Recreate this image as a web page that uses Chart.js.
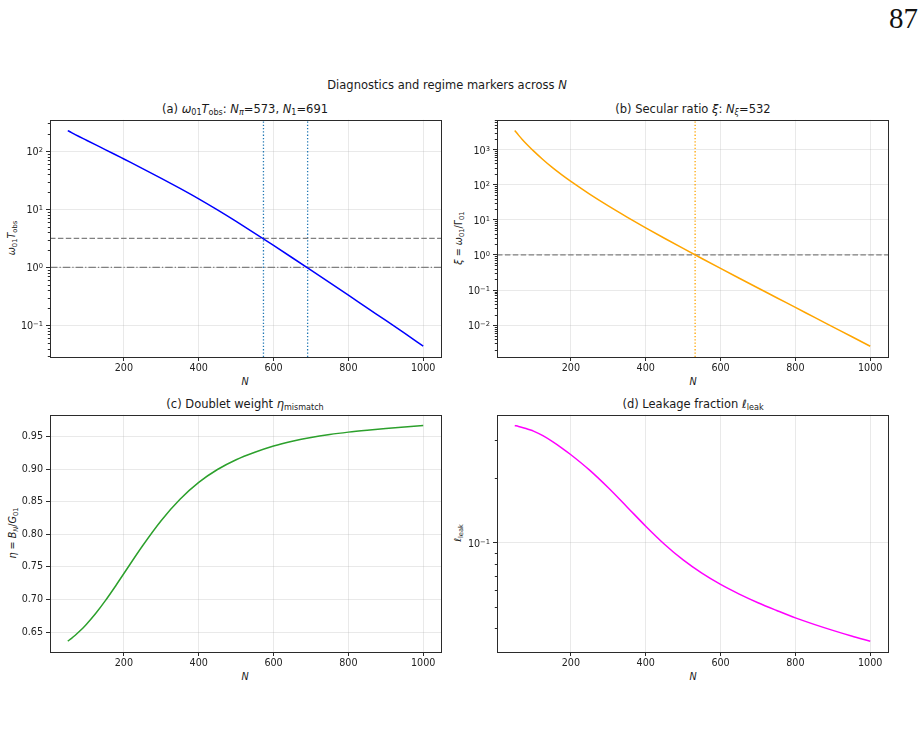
<!DOCTYPE html>
<html><head><meta charset="utf-8">
<script src="https://cdn.jsdelivr.net/npm/chart.js@4.4.0/dist/chart.umd.min.js"></script>
<style>
body{margin:0;background:#fff;}
#fig{position:relative;width:920px;height:736px;overflow:hidden;background:#fff;font-family:"DejaVu Sans",sans-serif;color:#1a1a1a;}
.t{position:absolute;white-space:nowrap;transform:translate(-50%,-50%);line-height:1;}
.yl{position:absolute;white-space:nowrap;transform:translate(-50%,-50%) rotate(-90deg);line-height:1;font-size:9.6px;}
.ttl{font-size:11.5px;}
.xl{font-size:9.6px;}
.lt{position:absolute;white-space:nowrap;transform:translate(-100%,-50%);line-height:1;font-size:9.6px;color:#222;}
.lt sup{font-size:70%;vertical-align:0.5em;line-height:0;}
sub{font-size:70%;vertical-align:-0.25em;line-height:0;}
i{font-style:italic;}
canvas{position:absolute;}
#pg{position:absolute;left:889px;top:2px;font-family:"Liberation Serif",serif;font-size:29px;color:#111;}
</style></head><body>
<div id="fig">
 <div id="pg">87</div>
 <div class="t ttl" style="left:447px;top:86px;">Diagnostics and regime markers across <i>N</i></div>
 <div class="t ttl" style="left:245px;top:110px;">(a) <i>ω</i><sub>01</sub><i>T</i><sub>obs</sub>: <i>N</i><sub><i>π</i></sub>=573, <i>N</i><sub>1</sub>=691</div>
 <div class="t ttl" style="left:693px;top:110px;">(b) Secular ratio <i>ξ</i>: <i>N</i><sub><i>ξ</i></sub>=532</div>
 <div class="t ttl" style="left:245px;top:405px;">(c) Doublet weight <i>η</i><sub>mismatch</sub></div>
 <div class="t ttl" style="left:693px;top:405px;">(d) Leakage fraction <i>ℓ</i><sub>leak</sub></div>
 <div class="t xl" style="left:245px;top:382px;"><i>N</i></div>
 <div class="t xl" style="left:693px;top:382px;"><i>N</i></div>
 <div class="t xl" style="left:245px;top:677px;"><i>N</i></div>
 <div class="t xl" style="left:693px;top:677px;"><i>N</i></div>
 <div class="yl" style="left:12px;top:238px;"><i>ω</i><sub>01</sub><i>T</i><sub>obs</sub></div>
 <div class="yl" style="left:459px;top:238px;"><i>ξ</i> = <i>ω</i><sub>01</sub>/Γ<sub>01</sub></div>
 <div class="yl" style="left:13px;top:533px;"><i>η</i> = <i>B</i><sub><i>N</i></sub>/<i>G</i><sub>01</sub></div>
 <div class="yl" style="left:458px;top:533px;"><i>ℓ</i><sub>leak</sub></div>
 <canvas id="ca"></canvas>
 <canvas id="cb"></canvas>
 <canvas id="cc"></canvas>
 <canvas id="cd"></canvas>
</div>
<script>
// ---- data ----
const N = [50,60,70,80,90,100,125,150,175,200,250,300,350,400,450,500,550,600,650,700,750,800,850,900,950,1000];
const omegaT = [226.0,208.4,192.8,178.6,165.6,153.8,127.9,106.4,88.3,73.1,50.1,34.0,22.8,15.07,9.73,6.17,3.85,2.38,1.462,0.895,0.546,0.332,0.201,0.122,0.0736,0.0439];
const xiRatio = [3467,2570,1941,1489,1159,912,519,309,192,123,53.7,24.8,11.94,5.89,2.97,1.524,0.789,0.411,0.216,0.1138,0.0603,0.0319,0.0169,0.00895,0.00474,0.00251];
const etaWeight = [0.636,0.6404,0.6452,0.6504,0.6560,0.6620,0.6788,0.6978,0.7184,0.7399,0.7825,0.8213,0.8538,0.8796,0.8994,0.9144,0.9259,0.9355,0.9428,0.9486,0.9531,0.9567,0.9597,0.9624,0.9647,0.9668];
const leakFrac = [0.3519,0.3485,0.3448,0.3407,0.3363,0.3315,0.3156,0.2969,0.2771,0.2573,0.2181,0.1805,0.1470,0.1195,0.0985,0.0832,0.0722,0.0640,0.0577,0.0526,0.0484,0.0447,0.0417,0.0391,0.0368,0.0348];
const N_pi = 573, N_1 = 691, N_xi = 532;
const thrPi = Math.PI, thrOne = 1;
const xTicks = [200,400,600,800,1000];
const etaTicks = [0.65,0.70,0.75,0.80,0.85,0.90,0.95];
const logTicksA = [0.1,1,10,100];
const logTicksB = [0.01,0.1,1,10,100,1000];
const logTicksD = [0.1];

// ---- helpers ----
function padRange(arr, log){
  const vals = log ? arr.map(v=>Math.log10(v)) : arr.slice();
  const lo = Math.min(...vals), hi = Math.max(...vals), m = (hi-lo)*0.05;
  return log ? [Math.pow(10,lo-m), Math.pow(10,hi+m)] : [lo-m, hi+m];
}
const xr = padRange(N,false);
const pts = (ys)=> N.map((n,i)=>({x:n,y:ys[i]}));

const framePlugin = {
  id:'frame',
  afterDraw(chart){
    const {ctx, chartArea:a} = chart;
    const ys = chart.scales.y;
    ctx.save();
    ctx.strokeStyle = '#2b2b2b'; ctx.lineWidth = 1;
    if (ys.type === 'logarithmic') {
      const k0 = Math.floor(Math.log10(ys.min)), k1 = Math.ceil(Math.log10(ys.max));
      ctx.beginPath();
      for (let k=k0;k<=k1;k++) for (let m=2;m<=9;m++){
        const v = m*Math.pow(10,k);
        if (v<ys.min || v>ys.max) continue;
        const y = Math.round(ys.getPixelForValue(v))+0.5;
        ctx.moveTo(a.left-2.2,y); ctx.lineTo(a.left,y);
      }
      ctx.stroke();
    }
    ctx.strokeRect(Math.round(a.left)+0.5, Math.round(a.top)+0.5, Math.round(a.right-a.left), Math.round(a.bottom-a.top));
    ctx.restore();
  }
};

const FONT = {family:'DejaVu Sans', size:9.6};
const GRID = 'rgba(176,176,176,0.35)';
const fig = document.getElementById('fig');

function makeChart(id, box, datasets, yCfg){
  const Wy = 45, Hx = 22, pt = 8, pr = 8;
  const cv = document.getElementById(id);
  const W = Wy + box.w + pr, H = pt + box.h + Hx;
  cv.width = W; cv.height = H;
  const cl = box.l - Wy, ct = box.t - pt;
  cv.style.left = cl + 'px'; cv.style.top = ct + 'px';
  cv.style.width = W+'px'; cv.style.height = H+'px';
  const ch = new Chart(cv, {
    type:'line',
    data:{datasets},
    options:{
      responsive:false, animation:false, devicePixelRatio:1,
      layout:{padding:{top:pt,right:pr,left:0,bottom:0}},
      plugins:{legend:{display:false}, tooltip:{enabled:false}},
      elements:{point:{radius:0}},
      scales:{
        x:{type:'linear', min:xr[0], max:xr[1],
           afterBuildTicks:(s)=>{ s.ticks = xTicks.map(v=>({value:v})); },
           afterFit:(s)=>{ s.height = Hx; },
           ticks:{font:FONT, color:'#222', padding:2, maxRotation:0, callback:(v)=>String(v)},
           grid:{color:GRID, lineWidth:0.8, tickColor:'#2b2b2b', tickLength:4, tickWidth:1},
           border:{display:false}},
        y:Object.assign({
           afterFit:(s)=>{ s.width = Wy; },
           ticks:{font:FONT, color:'#222', padding:3},
           grid:{color:GRID, lineWidth:0.8, tickColor:'#2b2b2b', tickLength:4, tickWidth:1},
           border:{display:false}}, yCfg)
      }
    },
    plugins:[framePlugin]
  });
  // power-of-ten labels as real text with true superscripts, positioned by the chart's own y scale
  if (yCfg.type === 'logarithmic') {
    const ys = ch.scales.y, a = ch.chartArea;
    yCfg.majorTicks.forEach(v=>{
      const e = Math.round(Math.log10(v));
      const d = document.createElement('div');
      d.className = 'lt';
      d.innerHTML = '10<sup>' + (e<0 ? '\u2212' + (-e) : e) + '</sup>';
      d.style.left = (cl + a.left - 7) + 'px';
      d.style.top = (ct + ys.getPixelForValue(v) + 1) + 'px';
      fig.appendChild(d);
    });
  }
  return ch;
}

function logY(data, ticks){
  const r = padRange(data,true);
  return {type:'logarithmic', min:r[0], max:r[1], majorTicks:ticks,
    afterBuildTicks:(s)=>{ s.ticks = ticks.map(v=>({value:v})); },
    ticks:{font:FONT, color:'#222', padding:3, callback:()=>''}};
}
function hline(y, color, dash, w){ return {data:[{x:xr[0],y},{x:xr[1],y}], borderColor:color, borderWidth:w||1.2, borderDash:dash, order:2, pointRadius:0}; }
function vline(x, lo, hi, color, dash){ return {data:[{x,y:lo},{x,y:hi}], borderColor:color, borderWidth:1.3, borderDash:dash, order:2, pointRadius:0}; }
function curve(ys, color){ return {data:pts(ys), borderColor:color, borderWidth:1.5, cubicInterpolationMode:'monotone', order:0, pointRadius:0}; }

const ya = logY(omegaT, logTicksA);
makeChart('ca', {l:50,t:119,w:391,h:238}, [
  curve(omegaT,'#0000ff'),
  hline(thrPi,'#808080',[5.5,2.4]),
  hline(thrOne,'#808080',[7.5,2,1.3,2]),
  vline(N_pi, ya.min, ya.max, '#1f77b4', [1.3,2]),
  vline(N_1, ya.min, ya.max, '#1f77b4', [1.3,2])
], ya);

const yb = logY(xiRatio, logTicksB);
makeChart('cb', {l:497,t:119,w:391,h:238}, [
  curve(xiRatio,'#ffa500'),
  hline(thrOne,'#808080',[5.5,2.4]),
  vline(N_xi, yb.min, yb.max, '#ffa500', [1.3,2])
], yb);

const rc = padRange(etaWeight,false);
makeChart('cc', {l:50,t:414,w:391,h:238}, [
  curve(etaWeight,'#2ca02c')
], {type:'linear', min:rc[0], max:rc[1],
    afterBuildTicks:(s)=>{ s.ticks = etaTicks.map(v=>({value:v})); },
    ticks:{font:FONT, color:'#222', padding:3, callback:(v)=>v.toFixed(2)}});

const yd = logY(leakFrac, logTicksD);
makeChart('cd', {l:497,t:414,w:391,h:238}, [
  curve(leakFrac,'#ff00ff')
], yd);
</script>
</body></html>
